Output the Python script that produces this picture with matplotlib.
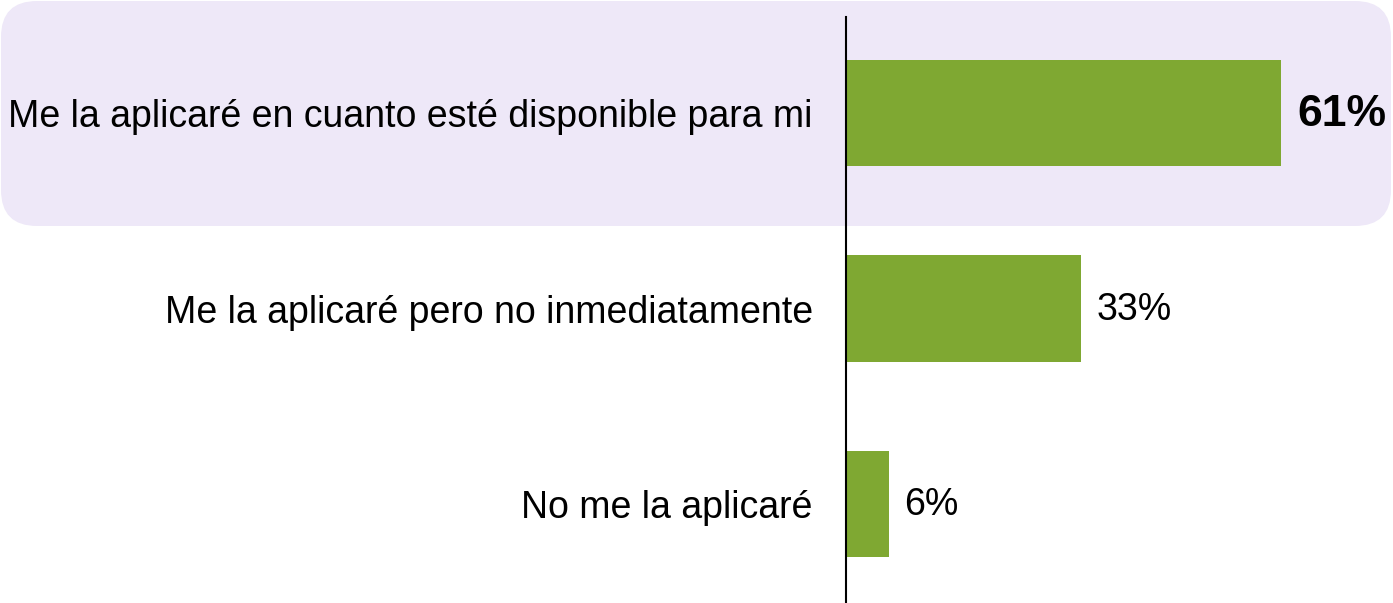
import matplotlib.pyplot as plt
from matplotlib.patches import FancyBboxPatch

plt.rcParams['font.family'] = ['Liberation Sans', 'DejaVu Sans']
plt.rcParams['font.size'] = 27

categories = ['Me la aplicaré en cuanto esté disponible para mi',
              'Me la aplicaré pero no inmediatamente',
              'No me la aplicaré']
values = [61, 33, 6]
labels = ['61%', '33%', '6%']
bold = [True, False, False]

bar_color = '#7FA832'
highlight = '#EEE8F8'

W, H = 1393, 603
fig = plt.figure(figsize=(W / 100, H / 100), dpi=100)

# rounded highlight behind first row
box = FancyBboxPatch((1 / W, (H - 226) / H), 1390 / W, 225 / H,
                     boxstyle='round,pad=0,rounding_size=%f' % (36 / W),
                     mutation_aspect=W / H, transform=fig.transFigure,
                     facecolor=highlight, edgecolor='none', zorder=-1)
fig.patches.append(box)

ax = fig.add_axes([846 / W, 0, (W - 846) / W, (H - 17) / H])
ax.patch.set_alpha(0)

y = list(range(len(categories)))
ax.barh(y, values, height=0.545, color=bar_color)

for yi, v, lab, b in zip(y, values, labels, bold):
    ax.annotate(lab, xy=(v, yi), xytext=(12 if b else 11, -1), textcoords='offset points',
                va='center', ha='left', fontsize=32 if b else 27,
                fontweight='bold' if b else 'normal')

ax.set_xlim(0, (W - 846) / 7.13)
ax.set_ylim(2.506, -0.491)
ax.set_yticks(y)
ax.set_yticklabels(categories)
ax.tick_params(axis='y', length=0, pad=24)
ax.set_xticks([])
for s in ['top', 'right', 'bottom']:
    ax.spines[s].set_visible(False)
ax.spines['left'].set_linewidth(1.5)
ax.spines['left'].set_color('black')

plt.savefig('out.png', dpi=100)
